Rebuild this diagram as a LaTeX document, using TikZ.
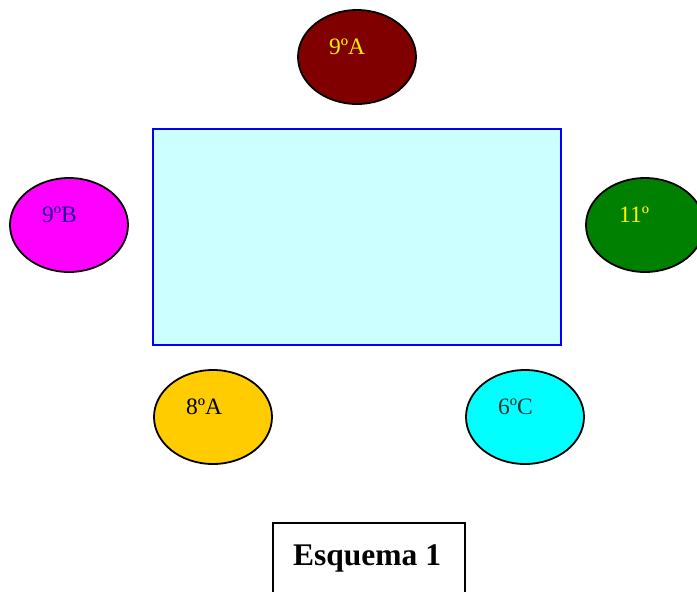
\documentclass[tikz,border=0pt]{standalone}
\usepackage{fontspec}
\setmainfont{Liberation Serif}
\usetikzlibrary{shapes.geometric}
\definecolor{maroonA}{HTML}{800000}
\definecolor{magB}{HTML}{FF00FF}
\definecolor{greenC}{HTML}{008000}
\definecolor{gold}{HTML}{FFCC00}
\definecolor{cyanE}{HTML}{00FFFF}
\definecolor{navyT}{HTML}{1A0090}
\definecolor{grayT}{HTML}{333333}
\definecolor{table}{HTML}{CCFFFF}
\begin{document}
\begin{tikzpicture}[x=1pt,y=-1pt,
  group/.style={draw=black, line width=1.8pt, ellipse, minimum width=118pt, minimum height=94pt, inner sep=0pt},
  lbl/.style={anchor=base west, inner sep=0pt, font=\fontsize{23.5}{27}\selectfont}]
\useasboundingbox (0,0) rectangle (697,592);
\clip (0,0) rectangle (697,592);
\node (tbl) [draw=blue, line width=1.4pt, fill=table, minimum width=408pt, minimum height=216pt, inner sep=0pt] at (357,237) {};
\node (g9a) [group, fill=maroonA] at (357,57) {};
\node (g9b) [group, fill=magB] at (69,225) {};
\node (g11) [group, fill=greenC] at (645,225) {};
\node (g8a) [group, fill=gold] at (213,417) {};
\node (g6c) [group, fill=cyanE] at (525,417) {};
\node (t9a) [lbl, text=yellow] at (329,54) {9ºA};
\node (t9b) [lbl, text=navyT] at (42,222) {9ºB};
\node (t11) [lbl, text=yellow] at (619,222) {11º};
\node (t8a) [lbl, text=black] at (186,414) {8ºA};
\node (t6c) [lbl, text=grayT] at (498,414) {6ºC};
\node (cap) [draw=black, line width=1.4pt, minimum width=192pt, minimum height=90pt, inner sep=0pt] at (369,568) {};
\node (capt) [anchor=base west, inner sep=0pt, font=\fontsize{31.5}{36}\selectfont\bfseries] at (293,565) {Esquema 1};
\end{tikzpicture}
\end{document}
